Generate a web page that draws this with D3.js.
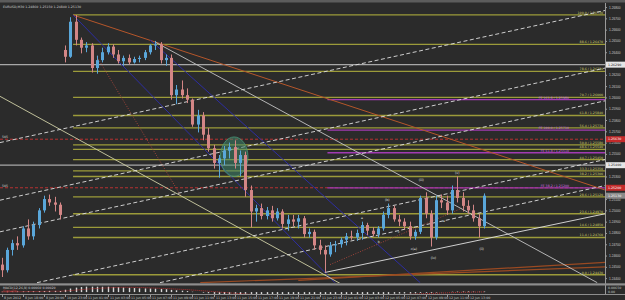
<!DOCTYPE html>
<html>
<head>
<meta charset="utf-8">
<script src="https://cdn.jsdelivr.net/npm/d3@7"></script>
<style>
  body { margin: 0; background: #2b2b2b; }
  svg { display: block; font-family: "DejaVu Sans", sans-serif; }
</style>
</head>
<body>
<svg id="chart" width="625" height="300"></svg>
<script>
// EURUSD M30, 8-12 Jun 2012
const symbol = "EURUSD,M30";

const opens  = [1.2452,1.2447,1.2465,1.2471,1.2469,1.2484,1.2477,1.2487,1.2500,1.2510,1.2507,1.2505,
                1.2642,1.2636,1.2667,1.2651,1.2644,1.2646,1.2626,1.2633,1.2640,1.2645,1.2638,1.2632,1.2635,1.2631,1.2634,1.2635,1.2640,1.2646,1.2647,1.2633,
                1.2635,1.2602,1.2607,1.2602,1.2598,1.2576,1.2584,1.2567,1.2555,1.2542,1.2546,1.2553,1.2556,1.2542,1.2549,1.2518,
                1.2499,1.2502,1.2495,1.2500,1.2493,1.2499,1.2488,1.2492,1.2490,1.2493,1.2479,1.2481,1.2469,1.2465,1.2461,1.2469,
                1.2470,1.2474,1.2477,1.2476,1.2480,1.2487,1.2482,1.2479,1.2484,1.2496,1.2502,1.2492,1.2490,1.2486,1.2477,1.2481,
                1.2511,1.2497,1.2476,1.2509,1.2507,1.2500,1.2518,1.2511,1.2504,1.2500,1.2493,1.2486];
const highs  = [1.2458,1.2467,1.2474,1.2477,1.2486,1.2492,1.2490,1.2502,1.2513,1.2514,1.2512,1.2507,
                1.2646,1.2671,1.2673,1.2653,1.2649,1.2648,1.2637,1.2644,1.2648,1.2647,1.2642,1.2637,1.2638,1.2636,1.2637,1.2642,1.2647,1.2650,1.2649,1.2638,
                1.2638,1.2611,1.2615,1.2608,1.2599,1.2589,1.2587,1.2573,1.2558,1.2549,1.2557,1.2560,1.2562,1.2553,1.2552,1.2522,
                1.2505,1.2506,1.2503,1.2504,1.2502,1.2501,1.2496,1.2496,1.2496,1.2495,1.2484,1.2483,1.2474,1.2469,1.2472,1.2473,
                1.2476,1.2480,1.2482,1.2483,1.2490,1.2489,1.2485,1.2486,1.2499,1.2506,1.2504,1.2496,1.2493,1.2490,1.2483,1.2513,
                1.2516,1.2500,1.2513,1.2514,1.2513,1.2522,1.2530,1.2516,1.2509,1.2505,1.2497,1.2515];
const lows   = [1.2441,1.2445,1.2460,1.2465,1.2467,1.2474,1.2474,1.2484,1.2498,1.2504,1.2499,1.2492,
                1.2631,1.2635,1.2646,1.2639,1.2640,1.2622,1.2621,1.2631,1.2638,1.2635,1.2630,1.2628,1.2629,1.2630,1.2631,1.2633,1.2638,1.2642,1.2630,1.2628,
                1.2598,1.2594,1.2599,1.2595,1.2574,1.2569,1.2562,1.2552,1.2537,1.2529,1.2540,1.2546,1.2537,1.2530,1.2512,1.2485,
                1.2490,1.2492,1.2492,1.2490,1.2491,1.2484,1.2482,1.2486,1.2484,1.2476,1.2476,1.2465,1.2461,1.2445,1.2459,1.2463,
                1.2467,1.2469,1.2474,1.2473,1.2474,1.2478,1.2477,1.2476,1.2482,1.2493,1.2490,1.2486,1.2483,1.2474,1.2474,1.2479,
                1.2493,1.2468,1.2474,1.2502,1.2496,1.2497,1.2507,1.2499,1.2497,1.2490,1.2476,1.2484];
const closes = [1.2447,1.2465,1.2471,1.2469,1.2484,1.2477,1.2487,1.2500,1.2510,1.2507,1.2505,1.2496,
                1.2636,1.2667,1.2651,1.2644,1.2646,1.2626,1.2633,1.2640,1.2645,1.2638,1.2632,1.2635,1.2631,1.2634,1.2635,1.2640,1.2646,1.2647,1.2633,1.2635,
                1.2602,1.2607,1.2602,1.2598,1.2576,1.2584,1.2567,1.2555,1.2542,1.2546,1.2553,1.2556,1.2542,1.2549,1.2518,1.2499,
                1.2502,1.2495,1.2500,1.2493,1.2499,1.2488,1.2492,1.2490,1.2493,1.2479,1.2481,1.2469,1.2465,1.2461,1.2469,1.2470,
                1.2474,1.2477,1.2476,1.2480,1.2487,1.2482,1.2479,1.2484,1.2496,1.2502,1.2492,1.2490,1.2486,1.2477,1.2481,1.2511,
                1.2497,1.2476,1.2509,1.2507,1.2500,1.2518,1.2511,1.2504,1.2500,1.2493,1.2486,1.2513];

// MACD(12,26,9) sub window
const macdMain = [0.0004,0.0005,0.0006,0.0007,0.0008,0.0009,0.0010,0.0011,0.0012,0.0013,0.0013,0.0012,
                  0.0025,0.0038,0.0048,0.0054,0.0058,0.0058,0.0057,0.0057,0.0057,0.0055,0.0052,0.0049,0.0046,0.0043,0.0040,0.0039,0.0038,0.0037,0.0033,0.0031,
                  0.0024,0.0019,0.0015,0.0011,0.0004,0.0000,-0.0006,-0.0012,-0.0019,-0.0023,-0.0025,-0.0026,-0.0029,-0.0030,-0.0035,-0.0042,
                  -0.0045,-0.0047,-0.0048,-0.0049,-0.0049,-0.0050,-0.0050,-0.0050,-0.0049,-0.0050,-0.0050,-0.0052,-0.0053,-0.0054,-0.0053,-0.0051,
                  -0.0049,-0.0046,-0.0044,-0.0041,-0.0037,-0.0034,-0.0032,-0.0029,-0.0025,-0.0020,-0.0018,-0.0016,-0.0015,-0.0015,-0.0014,-0.0009,
                  -0.0008,-0.0009,-0.0005,-0.0002,0.0000,0.0004,0.0006,0.0007,0.0007,0.0006,0.0004,0.0006];
const macdSignal = [0.0003,0.0003,0.0004,0.0004,0.0005,0.0006,0.0006,0.0007,0.0008,0.0009,0.0010,0.0010,
                  0.0012,0.0016,0.0021,0.0026,0.0031,0.0035,0.0039,0.0042,0.0045,0.0048,0.0050,0.0051,0.0051,0.0050,0.0049,0.0047,0.0045,0.0043,0.0040,0.0038,
                  0.0035,0.0032,0.0029,0.0026,0.0022,0.0018,0.0014,0.0010,0.0005,0.0001,-0.0004,-0.0008,-0.0012,-0.0016,-0.0020,-0.0024,
                  -0.0028,-0.0031,-0.0034,-0.0037,-0.0039,-0.0041,-0.0043,-0.0045,-0.0046,-0.0047,-0.0048,-0.0049,-0.0050,-0.0050,-0.0051,-0.0051,
                  -0.0051,-0.0050,-0.0049,-0.0048,-0.0046,-0.0044,-0.0042,-0.0040,-0.0037,-0.0034,-0.0031,-0.0028,-0.0026,-0.0023,-0.0021,-0.0018,
                  -0.0016,-0.0014,-0.0012,-0.0010,-0.0008,-0.0006,-0.0004,-0.0002,-0.0001,0.0000,0.0001,0.0002];

const timeLabels = ["8 Jun 2012","8 Jun 18:00","8 Jun 20:00","10 Jun 23:00","11 Jun 01:00","11 Jun 03:00","11 Jun 05:00",
                    "11 Jun 07:00","11 Jun 09:00","11 Jun 11:00","11 Jun 13:00","11 Jun 15:00","11 Jun 17:00","11 Jun 19:00",
                    "11 Jun 21:00","11 Jun 23:00","12 Jun 01:00","12 Jun 03:00","12 Jun 05:00","12 Jun 07:00","12 Jun 09:00",
                    "12 Jun 11:00","12 Jun 13:00"];
const timeBars = [0,4,8,12,16,20,24,28,32,36,40,44,48,52,56,60,64,68,72,76,80,84,88];
const priceTicks = [1.244,1.245,1.246,1.247,1.248,1.249,1.250,1.251,1.252,1.253,1.254,1.255,1.256,
                    1.257,1.258,1.259,1.260,1.261,1.262,1.263,1.264,1.265,1.266,1.267,1.268];

// fibo levels drawn from the 11 Jun high
const fibStart = 13.5;
const fibPrices = [1.2673,1.2647,1.2623,1.2600,1.2584,1.2573,1.2558,1.2554,1.2545,1.2535,1.2530,1.2512,1.2497,1.2485,1.2476,1.2443];
const fibNames  = ["100.0","88.6","78.6","70.7","61.8","56.4","50.0","48.6","44.7","33.3","38.2","28.6","23.6","14.6","11.4","0.0"];
// fibo expansion (magenta)
const expStart = 61.5;
const expPrices = [1.2598,1.2571,1.2551,1.2520];
const expNames  = ["FE 161.8","FE 100.0","FE 61.8","FE 38.2"];
// plain horizontal lines
const greyLevels = [1.2629,1.2540];
const redLevels  = [1.2563,1.2520];
const redNames   = ["505","505"];

// trend lines as [[bar, price], [bar, price]]
const orangeLines = [[[13.5,1.2673],[113.9,1.2518]]];
const brownLines  = [[[37.5,1.2436],[113.9,1.2450]],[[56,1.2438],[113.9,1.2454]]];
const navyLines   = [[[13.5,1.2673],[62.9,1.2436]],[[28,1.2651],[79,1.2436]]];
const greyDiag    = [[[29,1.2649],[112.4,1.2436]]];
const creamDiag   = [[[-0.3,1.2601],[64.4,1.2434]]];
const dashedLines = [[[-0.3,1.2560],[113.9,1.2677]],[[-0.3,1.2509],[113.9,1.2626]],[[-0.3,1.2481],[113.9,1.2597]],
                     [[6.7,1.2436],[113.9,1.2545]],[[29.9,1.2436],[113.9,1.2522]]];
const whiteDiag   = [[[61,1.2445],[113.9,1.2497]]];
const dottedLines = [[[18,1.2636],[33.7,1.2514]],[[62,1.2452],[88.4,1.2505]]];

// highlighted area (ellipse) and wave labels
const ellipseBars = [41.3,46.5];
const ellipsePrices = [1.2565,1.2530];
const waveLabels = [["(b)",72.8,1.2508],["(iii)",79.2,1.2526],["(v)",86,1.2532],["a",68,1.2492],["b",71.2,1.2471],
                    ["c",75,1.2480],["c(a)",77.8,1.2465],["(iv)",81.5,1.2457],["a",83.5,1.2490],["(ii)",90.6,1.2465]];

// ---------------------------------------------------------------
const svg = d3.select("#chart");
const W = 625, H = 300, PR = 605;
const BULL = "#5aa7da", BEAR = "#d38686";
const f5 = d3.format(".5f");

const x = d3.scaleLinear().domain([0, 91]).range([1.5, 483.8]);
const y = d3.scaleLinear().domain([1.24357, 1.26827]).range([283, 4]);
const ym = d3.scaleLinear().domain([-0.0015, 0.0065]).range([293.5, 286]);

svg.append("rect").attr("width", W).attr("height", H).attr("fill", "#2b2b2b");
svg.append("rect").attr("width", W).attr("height", 2.5).attr("fill", "#5c5c5c");

const defs = svg.append("defs");
defs.append("clipPath").attr("id", "plot").append("rect").attr("x", 0).attr("y", 3).attr("width", PR).attr("height", 280);
defs.append("clipPath").attr("id", "sub").append("rect").attr("x", 0).attr("y", 286).attr("width", PR).attr("height", 8);

const plot = svg.append("g").attr("clip-path", "url(#plot)");

// horizontal objects
function hlines(prices, start, color, width, dash){
  plot.append("g").selectAll("line").data(prices).join("line")
    .attr("x1", start == null ? 0 : x(start)).attr("x2", PR)
    .attr("y1", d => y(d)).attr("y2", d => y(d))
    .attr("stroke", color).attr("stroke-width", width)
    .attr("stroke-dasharray", dash || null);
}
hlines(greyLevels, null, "#a8a8a8", 1.3);
hlines(redLevels, null, "#b83232", 1, "3,2");
hlines(fibPrices, fibStart, "#9c9b3a", 1.3);
hlines(expPrices, expStart, "#a23bb3", 1.3);

// level captions; expansion captions sit left of the fibo ones
function levelText(prices, names, color, right){
  plot.append("g").selectAll("text").data(prices).join("text")
    .attr("x", right).attr("y", d => y(d) - 1).attr("text-anchor", "end")
    .attr("font-size", 3.2).attr("fill", color)
    .text((d, i) => names[i] + " / " + f5(d));
}
levelText(fibPrices, fibNames, "#d6d56c", PR - 2);
levelText(expPrices, expNames, "#d070e0", PR - 36);
plot.append("g").selectAll("text").data(redLevels).join("text")
  .attr("x", 2).attr("y", d => y(d) - 1).attr("font-size", 3.2).attr("fill", "#d8d8d8")
  .text((d, i) => redNames[i]);

// trend lines
function tlines(set, color, width, dash){
  plot.append("g").selectAll("line").data(set).join("line")
    .attr("x1", d => x(d[0][0])).attr("y1", d => y(d[0][1]))
    .attr("x2", d => x(d[1][0])).attr("y2", d => y(d[1][1]))
    .attr("stroke", color).attr("stroke-width", width)
    .attr("stroke-dasharray", dash || null);
}
tlines(brownLines, "#9a4a22", 1.2);
tlines(orangeLines, "#b5562a", 1);
tlines(navyLines, "#2e2ea2", 1);
tlines(dottedLines, "#a0443a", 1, "1,1.5");
tlines(creamDiag, "#cfcfa6", 0.9);
tlines(greyDiag, "#c4c4c4", 0.9);
tlines(whiteDiag, "#e2e2e2", 0.9);
tlines(dashedLines, "#e0e0e0", 0.9, "4,2.5");

// highlight ellipse
plot.append("ellipse")
  .attr("cx", (x(ellipseBars[0]) + x(ellipseBars[1])) / 2)
  .attr("cy", (y(ellipsePrices[0]) + y(ellipsePrices[1])) / 2)
  .attr("rx", (x(ellipseBars[1]) - x(ellipseBars[0])) / 2)
  .attr("ry", (y(ellipsePrices[1]) - y(ellipsePrices[0])) / 2)
  .attr("fill", "rgba(64,140,110,0.5)").attr("stroke", "#4a9878").attr("stroke-width", 0.8);

// candles
const bars = opens.map((o, i) => ({i, o, h: highs[i], l: lows[i], c: closes[i]}));
const cx = d => Math.round(x(d.i)) + 0.5;
const cg = plot.append("g").selectAll("g").data(bars).join("g");
cg.append("line")
  .attr("x1", cx).attr("x2", cx)
  .attr("y1", d => y(d.h)).attr("y2", d => y(d.l))
  .attr("stroke", d => d.c >= d.o ? BULL : BEAR).attr("stroke-width", 1);
cg.append("rect")
  .attr("x", d => cx(d) - 1.5).attr("width", 3)
  .attr("y", d => y(Math.max(d.o, d.c)))
  .attr("height", d => Math.max(1, Math.abs(y(d.o) - y(d.c))))
  .attr("fill", d => d.c >= d.o ? BULL : BEAR);

// wave labels
plot.append("g").selectAll("text").data(waveLabels).join("text")
  .attr("x", d => x(d[1])).attr("y", d => y(d[2])).attr("text-anchor", "middle")
  .attr("font-size", 3.2).attr("fill", "#e4e4e4").text(d => d[0]);

// title
const last = bars[bars.length - 1];
svg.append("text").attr("x", 3).attr("y", 8).attr("font-size", 3.2).attr("fill", "#d0d0d0")
  .text(`${symbol}  ${f5(last.o)} ${f5(last.h)} ${f5(last.l)} ${f5(last.c)}`);

// price axis
const ax = svg.append("g").attr("transform", `translate(${PR},0)`)
  .call(d3.axisRight(y).tickValues(priceTicks).tickSize(2).tickFormat(f5));
ax.select(".domain").remove();
ax.selectAll("line").attr("stroke", "#9a9a9a");
ax.selectAll("text").attr("x", 4).attr("font-size", 3.2).attr("fill", "#c8c8c8");
svg.append("line").attr("x1", PR + 0.5).attr("x2", PR + 0.5).attr("y1", 3).attr("y2", 294)
  .attr("stroke", "#9a9a9a");

function priceBox(prices, bg, fg){
  const g = svg.append("g").selectAll("g").data(prices).join("g")
    .attr("transform", d => `translate(${PR + 1},${y(d)})`);
  g.append("rect").attr("y", -3).attr("width", 19).attr("height", 6).attr("fill", bg);
  g.append("text").attr("x", 2).attr("y", 1.2).attr("font-size", 3.2).attr("fill", fg).text(d => f5(d));
}
priceBox(greyLevels, "#e6e6e6", "#202020");
priceBox(redLevels, "#c42a2a", "#ffffff");
priceBox([last.c], "#8a8a8a", "#ffffff");

// MACD window
svg.append("rect").attr("x", 0).attr("y", 283.3).attr("width", W).attr("height", 2.2).attr("fill", "#8e8e8e");
const sub = svg.append("g").attr("clip-path", "url(#sub)");
sub.append("g").selectAll("line").data(macdMain).join("line")
  .attr("x1", (d, i) => Math.round(x(i)) + 0.5).attr("x2", (d, i) => Math.round(x(i)) + 0.5)
  .attr("y1", ym(0)).attr("y2", d => ym(d))
  .attr("stroke", "#d8d8d8").attr("stroke-width", 1.4);
sub.append("path").datum(macdSignal)
  .attr("d", d3.line().x((d, i) => x(i)).y(d => ym(d)))
  .attr("fill", "none").attr("stroke", "#d03030").attr("stroke-width", 0.8).attr("stroke-dasharray", "1,1");
svg.append("text").attr("x", 3).attr("y", 289).attr("font-size", 3.2).attr("fill", "#d0d0d0")
  .text(`MACD(12,26,9) ${f5(macdMain[91])} ${f5(macdSignal[91])}`);
svg.append("text").attr("x", 3).attr("y", 292).attr("font-size", 3.2).attr("fill", "#d04040")
  .text("Signal(9)");
svg.append("line").attr("x1", 0).attr("x2", W).attr("y1", 294.5).attr("y2", 294.5).attr("stroke", "#8e8e8e");
svg.append("text").attr("x", PR + 3).attr("y", 288.5).attr("font-size", 3.2).attr("fill", "#c8c8c8").text("0.00650");
svg.append("text").attr("x", PR + 3).attr("y", 293).attr("font-size", 3.2).attr("fill", "#c8c8c8").text("0.00");

// time axis
const tg = svg.append("g").selectAll("g").data(timeBars).join("g")
  .attr("transform", d => `translate(${Math.round(x(d)) + 0.5},0)`);
tg.append("line").attr("y1", 295).attr("y2", 297).attr("stroke", "#9a9a9a");
tg.append("text").attr("x", 1.5).attr("y", 298.8).attr("font-size", 3.2).attr("fill", "#c8c8c8")
  .text((d, i) => timeLabels[i]);
</script>
</body>
</html>
